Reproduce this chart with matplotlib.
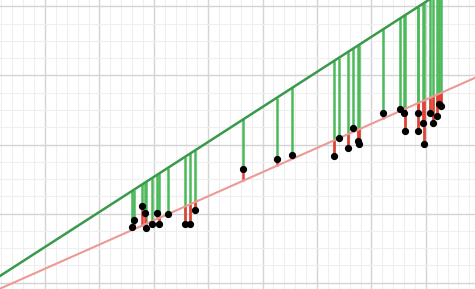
import numpy as np
import matplotlib.pyplot as plt

# observed points
x_pts = [8.00, 8.18, 8.92, 9.19, 9.28, 9.79, 10.29, 10.52, 11.31, 12.91, 13.37, 13.79,
         18.23, 21.32, 22.70, 26.56, 27.02, 27.85, 28.34, 28.77, 28.89, 31.09, 32.63,
         33.02, 33.09, 34.28, 34.31, 34.70, 34.79, 35.39, 35.66, 36.03, 36.17, 36.35]
y_pts = [1.61, 1.81, 2.22, 2.01, 1.58, 1.70, 2.01, 1.70, 2.00, 1.70, 1.70, 2.10,
         3.29, 3.59, 3.70, 3.68, 4.19, 3.89, 4.49, 4.09, 4.01, 4.90, 5.02,
         4.91, 4.40, 4.90, 4.40, 4.61, 4.01, 4.90, 4.61, 4.83, 5.18, 5.12]

# two candidate lines: y = a + b*x
green_ab = (1.03, 0.203)
red_ab = (0.40, 0.14)

x_lim = (-4.136, 39.52)
y_lim = (-0.188, 8.188)

def line(ab, x):
    return ab[0] + ab[1]*np.asarray(x)

fig = plt.figure(figsize=(4.75, 2.89), dpi=100)
ax = fig.add_axes([0, 0, 1, 1])
ax.set_xlim(*x_lim)
ax.set_ylim(*y_lim)
ax.axis("off")

# grid (minor then major)
for gx in np.arange(-4, 40, 1):
    c = "#d4d4d4" if gx % 5 == 0 else "#efefef"
    ax.axvline(gx, color=c, lw=1.0 if gx % 5 == 0 else 0.8, zorder=0)
for gy in np.arange(0, 8.5, 0.5):
    c = "#d4d4d4" if gy % 2 == 0 else "#efefef"
    ax.axhline(gy, color=c, lw=1.0 if gy % 2 == 0 else 0.8, zorder=0)

xp = np.array(x_pts)
yp = np.array(y_pts)
ax.vlines(xp, yp, line(green_ab, xp), color="#4cba5a", lw=1.8, zorder=2)
ax.vlines(xp, yp, line(red_ab, xp), color="#ee3a36", lw=1.8, zorder=3)

xx = np.array(x_lim)
ax.plot(xx, line(green_ab, xx), color="#3a9a4c", lw=1.8, zorder=4)
ax.plot(xx, line(red_ab, xx), color="#eb9a95", lw=1.5, zorder=4)

ax.plot(xp, yp, "o", color="black", ms=4.2, zorder=5)

fig.savefig("out.png", dpi=100)
